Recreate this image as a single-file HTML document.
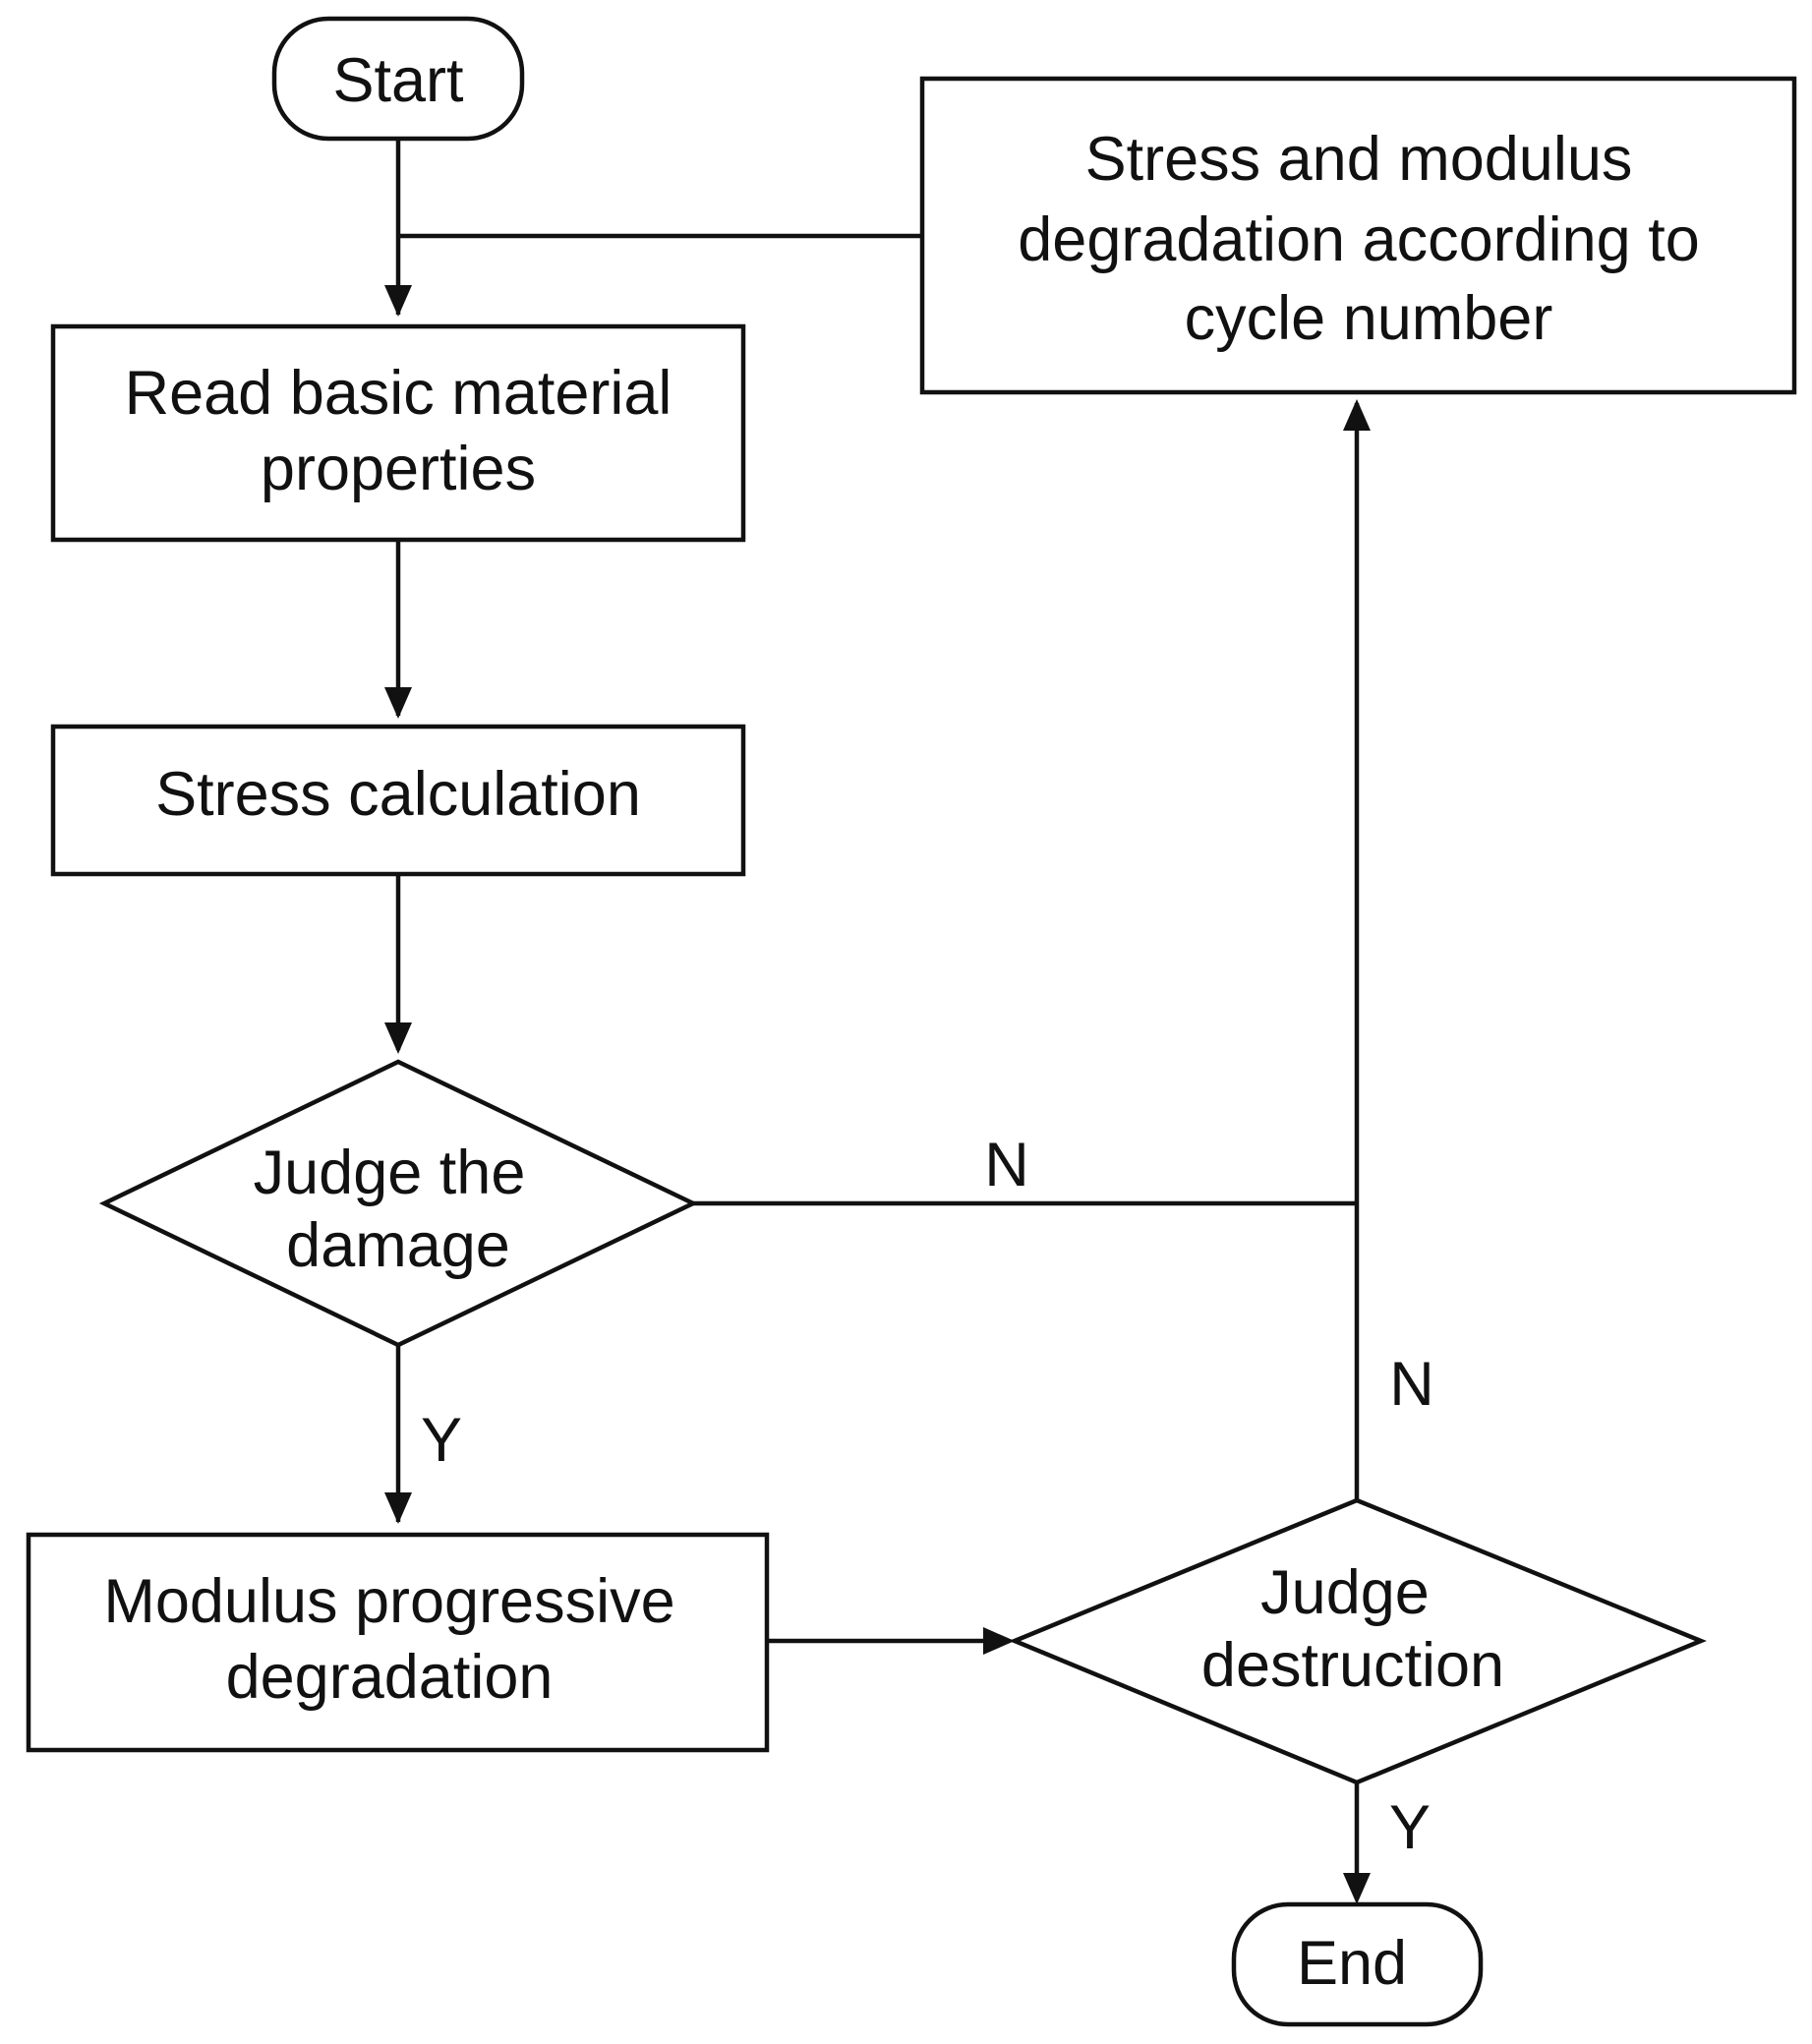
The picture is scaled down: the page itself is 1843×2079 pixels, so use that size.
<!DOCTYPE html>
<html><head><style>
html,body{margin:0;padding:0;background:#fff;}
svg{display:block;}
text{font-family:"Liberation Sans",Arial,sans-serif;font-size:63px;fill:#111;text-anchor:middle;}
</style></head><body>
<svg width="1843" height="2079" viewBox="0 0 1843 2079" xmlns="http://www.w3.org/2000/svg">
<g stroke="#111" stroke-width="4.5" fill="none">
<rect x="279" y="19" width="252" height="122" rx="55"/>
<rect x="938" y="80" width="887" height="319"/>
<rect x="54" y="332" width="702" height="217"/>
<rect x="54" y="739" width="702" height="150"/>
<polygon points="106,1224 405,1080 705,1224 405,1368"/>
<rect x="29" y="1561" width="751" height="219"/>
<polygon points="1032,1669 1380,1526 1730,1669 1380,1813"/>
<rect x="1255" y="1937" width="251" height="122" rx="55"/>
<line x1="405" y1="141" x2="405" y2="320"/>
<line x1="405" y1="240" x2="938" y2="240"/>
<line x1="405" y1="549" x2="405" y2="728"/>
<line x1="405" y1="889" x2="405" y2="1068"/>
<line x1="405" y1="1368" x2="405" y2="1548"/>
<line x1="705" y1="1224" x2="1380" y2="1224"/>
<line x1="1380" y1="1526" x2="1380" y2="410"/>
<line x1="780" y1="1669" x2="1025" y2="1669"/>
<line x1="1380" y1="1813" x2="1380" y2="1926"/>
</g>
<g fill="#111">
<path d="M391,290 L419,290 L405,322z"/>
<path d="M391,699 L419,699 L405,731z"/>
<path d="M391,1040 L419,1040 L405,1072z"/>
<path d="M391,1518 L419,1518 L405,1550z"/>
<path d="M1366,438 L1394,438 L1380,406z"/>
<path d="M1000,1655 L1000,1683 L1032,1669z"/>
<path d="M1366,1905 L1394,1905 L1380,1937z"/>
</g>
<text x="405" y="103">Start</text>
<text x="1382" y="183">Stress and modulus</text>
<text x="1382" y="265">degradation according to</text>
<text x="1392" y="345">cycle number</text>
<text x="405" y="421">Read basic material</text>
<text x="405" y="498">properties</text>
<text x="405" y="829">Stress calculation</text>
<text x="396" y="1214">Judge the</text>
<text x="405" y="1288">damage</text>
<text x="396" y="1650">Modulus progressive</text>
<text x="396" y="1727">degradation</text>
<text x="1368" y="1641">Judge</text>
<text x="1376" y="1715">destruction</text>
<text x="1375" y="2018">End</text>
<text x="1024" y="1206">N</text>
<text x="1436" y="1429">N</text>
<text x="449" y="1486">Y</text>
<text x="1434" y="1880">Y</text>
</svg>
</body></html>
